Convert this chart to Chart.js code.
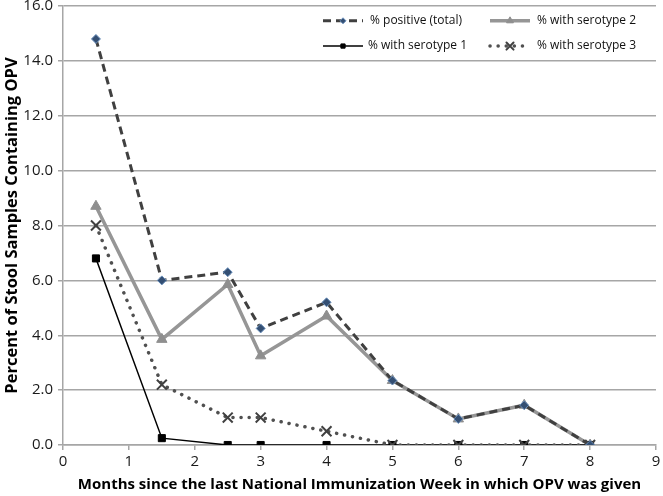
<!DOCTYPE html>
<html>
<head>
<meta charset="utf-8">
<script src="https://cdn.jsdelivr.net/npm/chart.js@4/dist/chart.umd.min.js"></script>
<style>
  html, body { margin: 0; padding: 0; background: #ffffff; }
  #wrap { width: 663px; height: 496px; position: relative; }
</style>
</head>
<body>
<div id="wrap"><canvas id="chart"></canvas></div>
<script>
(function () {
  'use strict';

  var months = [0.5, 1.5, 2.5, 3, 4, 5, 6, 7, 8];
  var positiveTotal = [14.8, 6.0, 6.3, 4.25, 5.2, 2.35, 0.95, 1.45, 0];
  var serotype2 = [8.7, 3.85, 5.85, 3.25, 4.7, 2.35, 0.95, 1.45, 0];
  var serotype1 = [6.8, 0.25, 0, 0, 0, 0, 0, 0, 0];
  var serotype3 = [8.0, 2.2, 1.0, 1.0, 0.5, 0, 0, 0, 0];
  var seriesLabels = ['% positive (total)', '% with serotype 2', '% with serotype 1', '% with serotype 3'];

  var FONT = "'Open Sans', 'Liberation Sans', sans-serif";

  function points(values) {
    return values.map(function (v, i) { return { x: months[i], y: v }; });
  }

  var datasets = [
    {
      label: seriesLabels[0],
      data: points(positiveTotal),
      borderColor: '#404040',
      borderWidth: 3,
      borderDash: [8, 5],
      pointStyle: 'rectRot',
      pointRadius: 4.5,
      pointBackgroundColor: '#344f73',
      pointBorderColor: '#6a8fbb',
      pointBorderWidth: 1,
      order: 1
    },
    {
      label: seriesLabels[1],
      data: points(serotype2),
      borderColor: '#969696',
      borderWidth: 3.5,
      pointStyle: 'triangle',
      pointRadius: 6,
      pointBackgroundColor: '#8f8f8f',
      pointBorderColor: '#8f8f8f',
      pointBorderWidth: 1,
      order: 4
    },
    {
      label: seriesLabels[2],
      data: points(serotype1),
      borderColor: '#000000',
      borderWidth: 1.5,
      pointStyle: 'rect',
      pointRadius: 5,
      pointBackgroundColor: '#000000',
      pointBorderColor: '#000000',
      pointBorderWidth: 1,
      order: 3
    },
    {
      label: seriesLabels[3],
      data: points(serotype3),
      borderColor: '#505050',
      borderWidth: 3.5,
      borderDash: [0.1, 8],
      borderCapStyle: 'round',
      pointStyle: 'crossRot',
      pointRadius: 7,
      pointBackgroundColor: '#404040',
      pointBorderColor: '#404040',
      pointBorderWidth: 2,
      order: 2
    }
  ];

  // Excel-style legend inside the plot, between the 16 and 14 gridlines
  var legendSlots = [
    { lx: 323, tx: 370, row: 0 },
    { lx: 490, tx: 537, row: 0 },
    { lx: 323, tx: 368, row: 1 },
    { lx: 490, tx: 537, row: 1 }
  ];

  var insideLegend = {
    id: 'insideLegend',
    afterDraw: function (chart) {
      var ctx = chart.ctx;
      var yTop = chart.scales.y.getPixelForValue(16);
      var yBot = chart.scales.y.getPixelForValue(14);
      var gap = yBot - yTop;
      ctx.save();
      chart.data.datasets.forEach(function (ds, i) {
        var slot = legendSlots[i];
        var y = yTop + gap * (slot.row === 0 ? 0.27 : 0.73);
        ctx.save();
        ctx.strokeStyle = ds.borderColor;
        ctx.lineWidth = ds.borderWidth;
        ctx.lineCap = ds.borderCapStyle || 'butt';
        ctx.setLineDash(ds.borderDash || []);
        ctx.beginPath();
        ctx.moveTo(slot.lx, y);
        ctx.lineTo(slot.lx + 40, y);
        ctx.stroke();
        ctx.setLineDash([]);
        ctx.fillStyle = ds.pointBackgroundColor;
        ctx.strokeStyle = ds.pointBorderColor;
        ctx.lineWidth = ds.pointBorderWidth;
        Chart.helpers.drawPoint(ctx, {
          pointStyle: ds.pointStyle,
          radius: Math.max(3, ds.pointRadius - 2),
          borderWidth: ds.pointBorderWidth
        }, slot.lx + 20, y);
        ctx.restore();
        ctx.fillStyle = '#111111';
        ctx.font = '12px ' + FONT;
        ctx.textBaseline = 'middle';
        ctx.textAlign = 'left';
        ctx.fillText(ds.label, slot.tx, y);
      });
      ctx.restore();
    }
  };

  new Chart(document.getElementById('chart'), {
    type: 'line',
    data: { datasets: datasets },
    options: {
      responsive: true,
      maintainAspectRatio: false,
      animation: false,
      layout: { autoPadding: false, padding: { top: 6, right: 7, left: 0, bottom: 0 } },
      plugins: {
        legend: { display: false },
        tooltip: { enabled: false }
      },
      scales: {
        x: {
          type: 'linear',
          min: 0,
          max: 9,
          afterFit: function (s) {
            s.height = 51;
            s.paddingLeft = 0;
            s.paddingRight = 0;
          },
          ticks: {
            stepSize: 1,
            color: '#1a1a1a',
            padding: 3,
            font: { family: FONT, size: 15 }
          },
          grid: {
            drawOnChartArea: false,
            drawTicks: true,
            tickLength: 5,
            color: '#a6a6a6',
            lineWidth: 1.5
          },
          border: { color: '#a6a6a6', width: 1.5 },
          title: {
            display: true,
            text: 'Months since the last National Immunization Week in which OPV was given',
            color: '#000000',
            padding: { top: 0, bottom: 2 },
            font: { family: FONT, size: 15, weight: 'bold' }
          }
        },
        y: {
          min: 0,
          max: 16,
          afterFit: function (s) {
            s.width = 63;
            s.paddingTop = 0;
            s.paddingBottom = 0;
          },
          ticks: {
            stepSize: 2,
            color: '#1a1a1a',
            padding: 5,
            font: { family: FONT, size: 15 },
            callback: function (v) { return v.toFixed(1); }
          },
          grid: {
            color: '#a6a6a6',
            lineWidth: 1.5,
            tickLength: 5
          },
          border: { color: '#a6a6a6', width: 1.5 },
          title: {
            display: true,
            text: 'Percent of Stool Samples Containing OPV',
            color: '#000000',
            padding: { top: 2, bottom: 2 },
            font: { family: FONT, size: 16.5, weight: 'bold' }
          }
        }
      }
    },
    plugins: [insideLegend]
  });
})();
</script>
</body>
</html>
